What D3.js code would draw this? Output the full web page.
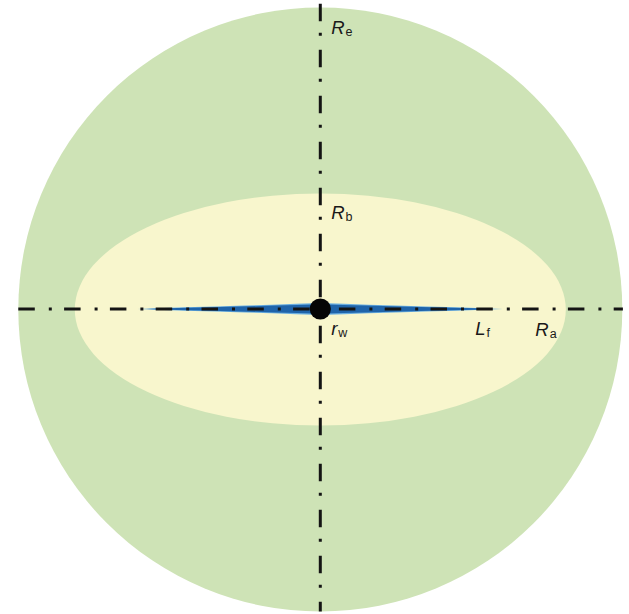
<!DOCTYPE html>
<html>
<head>
<meta charset="utf-8">
<script src="https://cdn.jsdelivr.net/npm/d3@7"></script>
<style>
  html, body { margin: 0; padding: 0; background: #ffffff; }
  svg { display: block; }
</style>
</head>
<body>
<script>
// Radii of the drainage geometry (arbitrary length units)
const outerRadius = [100];          // Re – external drainage circle
const ellipseAxes = [81.3, 38.4];   // Ra, Rb – elliptical stimulated zone
const fractureHalfLength = [60.5];  // Lf
const wellRadius = [3.5];           // rw

// Fracture aperture profile: distance from the well vs half-width
const fracPos   = [0, 8, 16, 25, 35, 45, 54, 60.5];
const fracHalfW = [2.0, 1.7, 1.42, 1.12, 0.84, 0.55, 0.27, 0];

// Label definitions
const labels = [
  { main: "R", sub: "e", x: 3.6,  y: 91.3 },
  { main: "R", sub: "b", x: 3.6,  y: 30.0 },
  { main: "r", sub: "w", x: 3.6,  y: -8.4 },
  { main: "L", sub: "f", x: 51.3, y: -8.4 },
  { main: "R", sub: "a", x: 71.2, y: -8.7 }
];

const W = 629, H = 614;
const cx = 320.3, cy = 309.5, pxR = 302;

const svg = d3.select("body").append("svg")
  .attr("width", W).attr("height", H);

const x = d3.scaleLinear().domain([-outerRadius[0], outerRadius[0]]).range([cx - pxR, cx + pxR]);
const y = d3.scaleLinear().domain([-outerRadius[0], outerRadius[0]]).range([cy + pxR, cy - pxR]);
const len = d3.scaleLinear().domain([0, outerRadius[0]]).range([0, pxR]);

// outer drainage circle
svg.append("circle")
  .attr("cx", x(0)).attr("cy", y(0)).attr("r", len(outerRadius[0]))
  .attr("fill", "#cee3b6");

// elliptical zone
svg.append("ellipse")
  .attr("cx", x(0)).attr("cy", y(0))
  .attr("rx", len(ellipseAxes[0])).attr("ry", len(ellipseAxes[1]))
  .attr("fill", "#f8f6cd");

// fracture wings (both sides), drawn as a lens polygon
const upper = fracPos.map((p, i) => [p, fracHalfW[i]]);
const profile = [];
upper.forEach(d => profile.push([d[0], d[1]]));
upper.slice().reverse().forEach(d => profile.push([d[0], -d[1]]));
const wing = d3.line().x(d => x(d[0])).y(d => y(d[1]) - 0.5).curve(d3.curveLinearClosed);

[1, -1].forEach(side => {
  const pts = profile.map(d => [side * d[0], d[1]]);
  svg.append("path").attr("d", wing(pts))
    .attr("fill", "#6aaee0");
  const inner = profile.map(d => [side * d[0] * 0.95, d[1] * 0.8]);
  svg.append("path").attr("d", wing(inner))
    .attr("fill", "#1f64aa");
});

// dash-dot axes
svg.append("line")
  .attr("x1", x(-outerRadius[0])).attr("x2", x(outerRadius[0]) + 0.6)
  .attr("y1", y(0) - 0.5).attr("y2", y(0) - 0.5)
  .attr("stroke", "#141414").attr("stroke-width", 3)
  .attr("stroke-dasharray", "16.5,14,3,12.3");

svg.append("line")
  .attr("x1", x(0)).attr("x2", x(0))
  .attr("y1", y(outerRadius[0]) - 3.7).attr("y2", y(-outerRadius[0]))
  .attr("stroke", "#141414").attr("stroke-width", 3)
  .attr("stroke-dasharray", "17.5,11.5,3,14");

// wellbore
svg.append("circle")
  .attr("cx", x(0)).attr("cy", y(0) - 0.5).attr("r", len(wellRadius[0]))
  .attr("fill", "#050505");

// labels with subscripts
labels.forEach(l => {
  const t = svg.append("text")
    .attr("x", x(l.x)).attr("y", y(l.y))
    .attr("font-family", "'Liberation Sans', Arial, sans-serif")
    .attr("fill", "#1a1a1a");
  t.append("tspan").text(l.main)
    .attr("font-size", 18.5).attr("font-style", "italic");
  t.append("tspan").text(l.sub)
    .attr("font-size", 12.5).attr("dx", 1).attr("dy", 2);
});
</script>
</body>
</html>
